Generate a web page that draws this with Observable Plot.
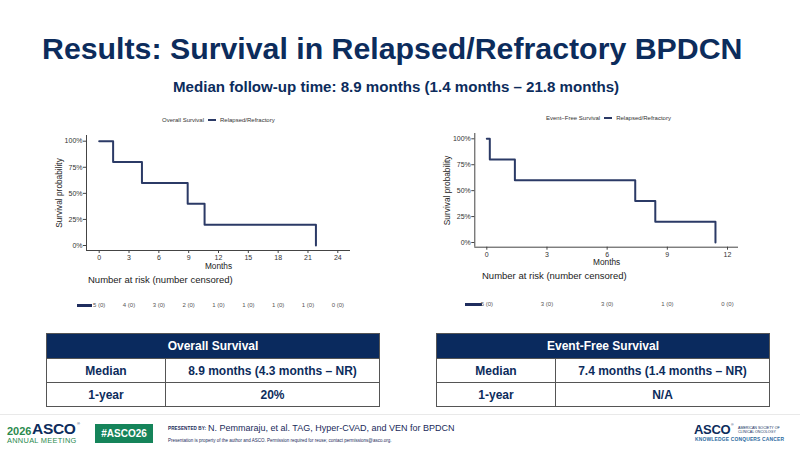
<!DOCTYPE html>
<html>
<head>
<meta charset="utf-8">
<script src="https://cdn.jsdelivr.net/npm/d3@7"></script>
<script src="https://cdn.jsdelivr.net/npm/@observablehq/plot@0.6"></script>
<style>
  html, body { margin: 0; padding: 0; background: #fff; }
  body { width: 800px; height: 453px; position: relative; overflow: hidden; font-family: "Liberation Sans", Arial, sans-serif; }
  .abs { position: absolute; white-space: nowrap; }
  .title { color: #0c2c5c; font-weight: bold; font-size: 30.3px; line-height: 30px; }
  .subtitle { color: #0c2c5c; font-weight: bold; font-size: 15.1px; line-height: 15px; }
  .legend { font-size: 6px; line-height: 6px; color: #333; display: flex; align-items: center; }
  .swatch { display: inline-block; width: 8px; height: 2px; background: #2b3a66; margin: 0 4px 0 4px; }
  .risk-title { font-size: 9.5px; line-height: 10px; color: #222; }
  .risk-swatch { position: absolute; height: 2.5px; background: #1f2d5e; }
  table.summary { position: absolute; border-collapse: collapse; width: 334px; font-weight: bold; font-size: 12px; color: #0c2c5c; table-layout: fixed; }
  table.summary th { background: #0a2a5e; color: #fff; height: 24px; border: 1px solid #555; padding: 0; }
  table.summary td { height: 23px; border: 1px solid #555; text-align: center; padding: 0; }
  .plot { position: absolute; }
</style>
</head>
<body>
<div class="abs title" style="left:42px; top:34px;">Results: Survival in Relapsed/Refractory BPDCN</div>
<div class="abs subtitle" style="left:173px; top:78.5px;">Median follow-up time: 8.9 months (1.4 months – 21.8 months)</div>

<div class="abs legend" style="left:162px; top:117px;">Overall Survival<span class="swatch"></span>Relapsed/Refractory</div>
<div class="abs legend" style="left:546px; top:114.5px;">Event−Free Survival<span class="swatch"></span>Relapsed/Refractory</div>

<div id="osPlot" class="plot" style="left:40px; top:130px;"></div>
<div id="efsPlot" class="plot" style="left:430px; top:128px;"></div>

<div class="abs risk-title" style="left:88px; top:275px;">Number at risk (number censored)</div>
<div class="abs risk-title" style="left:482px; top:271px;">Number at risk (number censored)</div>

<div class="risk-swatch" style="left:77px; top:304px; width:15px;"></div>
<div class="risk-swatch" style="left:465px; top:303px; width:16.5px;"></div>
<div id="osRisk" class="plot" style="left:40px; top:297px;"></div>
<div id="efsRisk" class="plot" style="left:430px; top:296px;"></div>

<table class="summary" style="left:46px; top:333px;">
  <colgroup><col style="width:119px"><col></colgroup>
  <tr><th colspan="2">Overall Survival</th></tr>
  <tr><td>Median</td><td>8.9 months (4.3 months – NR)</td></tr>
  <tr><td>1-year</td><td>20%</td></tr>
</table>
<table class="summary" style="left:436px; top:333px;">
  <colgroup><col style="width:119px"><col></colgroup>
  <tr><th colspan="2">Event-Free Survival</th></tr>
  <tr><td>Median</td><td>7.4 months (1.4 months – NR)</td></tr>
  <tr><td>1-year</td><td>N/A</td></tr>
</table>

<!-- footer -->
<div class="abs" style="left:0; top:414px; width:800px; height:1px; background:#e9e9e9;"></div>
<div class="abs" style="left:7px; top:425.5px; font-size:11px; line-height:11px; color:#2a8a4e; font-weight:bold;">2026</div>
<div class="abs" style="left:32px; top:422px; font-size:15.5px; line-height:13px; color:#0c2c5c; font-weight:bold; letter-spacing:-0.3px;">ASCO</div>
<div class="abs" style="left:77px; top:422px; font-size:4px; line-height:4px; color:#0c2c5c;">®</div>
<div class="abs" style="left:7px; top:436.5px; font-size:7.4px; line-height:7px; color:#2a8a4e; letter-spacing:0.3px;">ANNUAL MEETING</div>
<div class="abs" style="left:95px; top:424px; width:58px; height:19px; background:#15845a; color:#fff; font-weight:bold; font-size:10px; line-height:19px; text-align:center;">#ASCO26</div>
<div class="abs" style="left:168px; top:426px; font-size:4.6px; line-height:5px; color:#1a2a5a; font-weight:bold; letter-spacing:0.1px;">PRESENTED BY:</div>
<div class="abs" style="left:208px; top:424px; font-size:9px; line-height:9px; color:#1a2a5a;">N. Pemmaraju, et al. TAG, Hyper-CVAD, and VEN for BPDCN</div>
<div class="abs" style="left:168px; top:438px; font-size:4.5px; line-height:5px; color:#1a2a5a;">Presentation is property of the author and ASCO. Permission required for reuse; contact permissions@asco.org.</div>
<div class="abs" style="left:694px; top:424px; font-size:13px; line-height:12px; color:#0c2c5c; font-weight:bold; letter-spacing:-0.3px;">ASCO</div>
<div class="abs" style="left:731px; top:424px; font-size:3.5px; line-height:3.5px; color:#0c2c5c;">®</div>
<div class="abs" style="left:738px; top:426px; font-size:3.6px; line-height:4.2px; color:#0c2c5c;">AMERICAN SOCIETY OF<br>CLINICAL ONCOLOGY</div>
<div class="abs" style="left:695px; top:437px; font-size:4.9px; line-height:5px; color:#2c6aa0; font-weight:bold; letter-spacing:0.2px;">KNOWLEDGE CONQUERS CANCER</div>

<script>
// Kaplan–Meier step points: month of each drop and survival after it
const osMonths = [0, 1.4, 4.3, 8.9, 10.6, 21.8];
const osSurvival = [1, 0.8, 0.6, 0.4, 0.2, 0];
const efsMonths = [0, 0.15, 1.4, 7.4, 8.4, 11.4];
const efsSurvival = [1, 0.8, 0.6, 0.4, 0.2, 0];

// Number-at-risk tables
const osRiskMonths = [0, 3, 6, 9, 12, 15, 18, 21, 24];
const osAtRisk = [5, 4, 3, 2, 1, 1, 1, 1, 0];
const osCensored = [0, 0, 0, 0, 0, 0, 0, 0, 0];
const efsRiskMonths = [0, 3, 6, 9, 12];
const efsAtRisk = [5, 3, 3, 1, 0];
const efsCensored = [0, 0, 0, 0, 0];

// Axis ticks
const osXTicks = [0, 3, 6, 9, 12, 15, 18, 21, 24];
const efsXTicks = [0, 3, 6, 9, 12];
const yTicks = [0, 0.25, 0.5, 0.75, 1];

const lineColor = "#2b3a66";
const axisColor = "#444";
const fontFamily = "'Liberation Sans', Arial, sans-serif";

function kmChart({months, survival, xMax, xTicks, width, height, margin, inset}) {
  const data = months.map((m, i) => ({month: m, surv: survival[i]}));
  return Plot.plot({
    width, height,
    marginLeft: margin.left, marginRight: margin.right, marginTop: margin.top, marginBottom: margin.bottom,
    style: {fontFamily, fontSize: "7px", color: "#333", background: "transparent", overflow: "visible"},
    x: {domain: [0, xMax], insetLeft: inset.left, insetRight: inset.right},
    y: {domain: [0, 1], insetTop: inset.top, insetBottom: inset.bottom},
    marks: [
      Plot.ruleX([0], {dx: -inset.left, stroke: axisColor, strokeWidth: 1}),
      Plot.ruleY([0], {dy: inset.bottom, stroke: axisColor, strokeWidth: 1}),
      Plot.axisX({ticks: xTicks, tickSize: 3, tickPadding: 1.5, label: null, stroke: axisColor, fill: "#333"}),
      Plot.axisY({ticks: yTicks, tickFormat: d3.format(".0%"), tickSize: 3, tickPadding: 1, label: null, stroke: axisColor, fill: "#333"}),
      Plot.line(data, {x: "month", y: "surv", curve: "step-after", stroke: lineColor, strokeWidth: 2}),
      Plot.text(["Survival probability"], {frameAnchor: "left", dx: -27, rotate: -90, textAnchor: "middle", lineAnchor: "middle", fontSize: 8.3, fill: "#222"}),
      Plot.text(["Months"], {frameAnchor: "bottom", dy: 15.5, textAnchor: "middle", lineAnchor: "middle", fontSize: 8.3, fill: "#222"})
    ]
  });
}

function riskRow({riskMonths, atRisk, censored, xMax, width, margin, inset}) {
  const rows = riskMonths.map((m, i) => ({month: m, label: `${atRisk[i]} (${censored[i]})`}));
  return Plot.plot({
    width, height: 16,
    marginLeft: margin.left, marginRight: margin.right, marginTop: 0, marginBottom: 0,
    style: {fontFamily, background: "transparent", overflow: "visible"},
    x: {domain: [0, xMax], insetLeft: inset.left, insetRight: inset.right, axis: null},
    marks: [
      Plot.text(rows, {x: "month", text: "label", frameAnchor: "middle", fontSize: 6, fill: "#555"})
    ]
  });
}

const osLayout = {width: 320, height: 145, margin: {left: 46, right: 10, top: 5, bottom: 25}, inset: {left: 12.7, right: 12.7, top: 5.7, bottom: 5}};
const efsLayout = {width: 320, height: 144, margin: {left: 44.3, right: 12, top: 5, bottom: 25.3}, inset: {left: 12, right: 11, top: 5.3, bottom: 4.7}};

document.getElementById("osPlot").append(kmChart({months: osMonths, survival: osSurvival, xMax: 24, xTicks: osXTicks, ...osLayout}));
document.getElementById("efsPlot").append(kmChart({months: efsMonths, survival: efsSurvival, xMax: 12, xTicks: efsXTicks, ...efsLayout}));
document.getElementById("osRisk").append(riskRow({riskMonths: osRiskMonths, atRisk: osAtRisk, censored: osCensored, xMax: 24, width: osLayout.width, margin: osLayout.margin, inset: osLayout.inset}));
document.getElementById("efsRisk").append(riskRow({riskMonths: efsRiskMonths, atRisk: efsAtRisk, censored: efsCensored, xMax: 12, width: efsLayout.width, margin: efsLayout.margin, inset: efsLayout.inset}));
</script>
</body>
</html>
